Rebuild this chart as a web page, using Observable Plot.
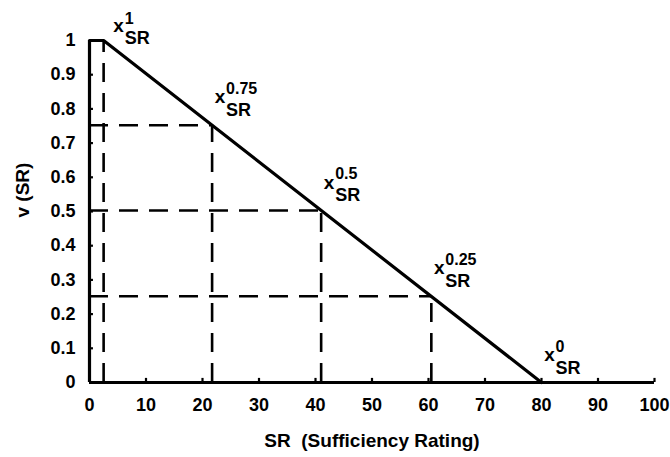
<!DOCTYPE html>
<html>
<head>
<meta charset="utf-8">
<script src="https://cdn.jsdelivr.net/npm/d3@7"></script>
<script src="https://cdn.jsdelivr.net/npm/@observablehq/plot@0.6"></script>
<style>
  html, body { margin: 0; padding: 0; background: #fff; }
  #chart svg { display: block; }
</style>
</head>
<body>
<div id="chart"></div>
<script>
// Tick values and labels
const xTicks = [0, 10, 20, 30, 40, 50, 60, 70, 80, 90, 100];
const yTicks = [0, 0.1, 0.2, 0.3, 0.4, 0.5, 0.6, 0.7, 0.8, 0.9, 1];
const yTickLabels = ["0", "0.1", "0.2", "0.3", "0.4", "0.5", "0.6", "0.7", "0.8", "0.9", "1"];

// Value function v(SR): piecewise linear
const curveX = [0, 2.5, 80];
const curveY = [1, 1, 0];

// Marked points x_SR^p
const pointLevels = ["1", "0.75", "0.5", "0.25", "0"];
const pointX = [2.5, 21.7, 41, 60.5, 80];
const pointY = [1, 0.752, 0.503, 0.252, 0];

const xTitle = "SR  (Sufficiency Rating)";
const yTitle = "v (SR)";

const curve = curveX.map((x, i) => ({x, y: curveY[i]}));
const points = pointX.map((x, i) => ({x, y: pointY[i], level: pointLevels[i]}));
const dropPoints = points.filter(p => p.y > 0);
const sidePoints = points.filter(p => p.y > 0 && p.y < 1);
const topPoint = points.filter(p => p.y === 1);
const restPoints = points.filter(p => p.y < 1);

const font = "'Liberation Sans Narrow', 'Liberation Sans', Arial, Helvetica, sans-serif";
const dash = "19,11";
const fw = "bold";

function pointLabels(data, o) {
  return [
    Plot.text(data, {x: "x", y: "y", text: () => "x", dx: o.xdx, dy: o.xdy, fontSize: 19, fontWeight: fw, textAnchor: "middle", lineAnchor: "middle"}),
    Plot.text(data, {x: "x", y: "y", text: "level", dx: o.sdx, dy: o.supdy, fontSize: 16, fontWeight: fw, textAnchor: "start", lineAnchor: "bottom"}),
    Plot.text(data, {x: "x", y: "y", text: () => "SR", dx: o.sdx, dy: o.subdy, fontSize: 18, fontWeight: fw, textAnchor: "start", lineAnchor: "bottom"})
  ];
}

const chart = Plot.plot({
  width: 670,
  height: 457,
  marginLeft: 89,
  marginRight: 16,
  marginTop: 40,
  marginBottom: 75,
  x: {domain: [0, 100], axis: null},
  y: {domain: [0, 1], axis: null},
  style: {fontFamily: font, background: "#fff", color: "#000", overflow: "visible"},
  marks: [
    // dashed guide lines
    Plot.ruleX(dropPoints, {x: "x", y1: 0, y2: "y", stroke: "#000", strokeWidth: 2.6, strokeDasharray: dash}),
    Plot.ruleY(sidePoints, {y: "y", x1: 0, x2: "x", stroke: "#000", strokeWidth: 2.6, strokeDasharray: dash}),
    // axes lines
    Plot.ruleY([0], {x1: 0, x2: 100, stroke: "#000", strokeWidth: 3.2}),
    Plot.ruleX([0], {y1: 0, y2: 1, stroke: "#000", strokeWidth: 3.2}),
    // tick marks
    Plot.ruleX(xTicks, {x: d => d, y1: 0, y2: 0.012, stroke: "#000", strokeWidth: 2.2}),
    Plot.ruleY(yTicks, {y: d => d, x1: 0, x2: 0.7, stroke: "#000", strokeWidth: 2.2}),
    // tick labels
    Plot.text(xTicks, {x: d => d, y: 0, dy: 23, text: d => String(d), fontSize: 18, fontWeight: fw, textAnchor: "middle", lineAnchor: "middle"}),
    Plot.text(yTicks, {x: 0, y: d => d, dx: -14, text: (d, i) => yTickLabels[i], fontSize: 18, fontWeight: fw, textAnchor: "end", lineAnchor: "middle"}),
    // value function
    Plot.line(curve, {x: "x", y: "y", stroke: "#000", strokeWidth: 3.2, strokeLinejoin: "miter"}),
    // point labels x^p_SR
    ...pointLabels(restPoints, {xdx: 8, xdy: -28, sdx: 14, supdy: -31, subdy: -9}),
    ...pointLabels(topPoint, {xdx: 15, xdy: -15, sdx: 21, supdy: -17, subdy: 3}),
    // axis titles
    Plot.text([xTitle], {frameAnchor: "bottom", dy: 58, text: d => d, fontSize: 19, fontWeight: fw, lineAnchor: "middle"}),
    Plot.text([yTitle], {frameAnchor: "left", dx: -67, dy: 6, rotate: -90, text: d => d, fontSize: 19, fontWeight: fw, lineAnchor: "middle"})
  ]
});

document.getElementById("chart").appendChild(chart);
</script>
</body>
</html>
